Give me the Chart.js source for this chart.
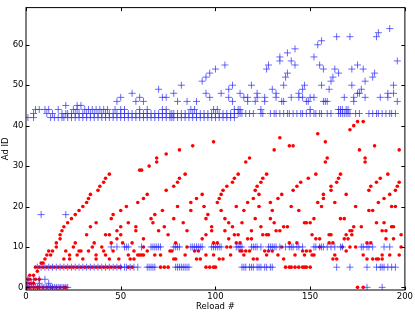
<!DOCTYPE html>
<html><head><meta charset="utf-8">
<script src="https://cdn.jsdelivr.net/npm/chart.js@4"></script>
<style>html,body{margin:0;padding:0;background:#fff;overflow:hidden}</style>
</head><body>
<canvas id="c" width="415" height="312"></canvas>
<script>
// ---- tick labels ----
const xTicks = [0, 50, 100, 150, 200];
const yTicks = [0, 10, 20, 30, 40, 50, 60];

// ---- red series: [reload, adId] ----
const redA = [
 [1,0],[2,0],[4,0],[6,0],[7,0],[9,0],[11,0],[13,0],[14,0],[16,0],[18,0],[20,0],[21,0],
 [0,1],[2,1],[4,1],[1,2],[2,2],[5,2],[7,2],[2,3],[4,3],[6,4],
 [5,5],[7,5],[9,5],[11,5],[13,5],[15,5],[17,5],[19,5],[21,5],[23,5],[25,5],[27,5],[29,5],[31,5],[33,5],[35,5],[37,5],[39,5],[41,5],[43,5],[45,5],[47,5],[49,5],
 [8,6],[9,6],
 [10,7],[20,7],[23,7],[30,7],[37,7],[44,7],[49,7],
 [11,8],[13,8],[23,8],[27,8],[37,8],[42,8],
 [12,9],[14,9],[21,9],[28,9],[29,9],[33,9],[41,9],[46,9],
 [16,10],[25,10],[35,10],[40,10],
 [16,11],[26,11],[36,11],[45,11],
 [18,12],[48,12],[18,13],[32,13],[42,13],[44,13],[19,14],[48,14],[20,15],[34,15],[22,16],[37,16],
 [24,17],[45,17],[26,18],[46,18],[28,19],[30,20],[32,21],[33,22],[34,23],[38,24],[39,25],[41,26],[42,27],[44,28]
];
const redB = [
 [50,19],[53,20],[59,21],[62,22],[64,23],[74,24],[78,25],[80,26],[81,27],[84,28],
 [60,29],[61,29],[65,30],[69,31],[69,32],[74,33],[81,34],[88,35],[99,36],
 [50,15],[50,13],[54,16],[58,15],[58,14],[62,12],[66,17],[67,16],[68,18],[70,14],[72,19],[73,15],[75,13],[78,17],[80,20],[83,16],[85,14],[87,21],[87,19],[90,22],[93,23],[94,20],[95,17],[96,18],[93,12],[95,13],[98,15],
 [51,11],[56,11],[57,9],[59,8],[62,10],[64,9],[68,8],[71,8],[76,9],[77,9],[79,11],[84,8],[85,10],[89,9],[91,9],[90,7],[92,7],[95,8],[99,11],
 [55,7],[57,7],[54,8],[60,8],[61,8],[62,8],[78,7],[79,7],
 [50,5],[54,5],[56,5],[71,5],[73,5],[75,5],[95,5],[97,5],[99,5],[100,5]
];
const redC = [
 [134,37],[131,34],[139,35],[141,35],[116,31],[118,32],
 [101,21],[102,22],[103,23],[104,24],[106,25],[109,26],[110,27],[112,28],
 [117,21],[120,22],[123,23],[121,24],[122,25],[124,26],[125,27],[127,28],
 [129,21],[133,22],[135,23],[141,24],[143,25],[145,26],
 [103,19],[111,20],[115,19],[123,20],[130,19],[140,20],[144,19],
 [105,17],[107,16],[109,15],[114,16],[121,17],[124,15],[129,17],[131,16],[132,14],[134,14],[136,15],[138,15],[147,16],
 [98,14],[105,14],[110,13],[112,13],[107,12],[119,14],[117,12],[119,12],[125,13],[127,13],[128,13],
 [101,11],[111,11],[113,11],[139,11],[143,11],
 [106,10],[108,10],[135,10],
 [113,9],[114,9],[116,9],[118,9],[126,9],[128,9],[130,9],[146,9],
 [99,8],[108,8],[115,8],[127,8],[133,8],[142,8],[147,8],
 [102,7],[104,7],[120,7],[122,7],[136,7],
 [137,5],[139,5],[140,5],[142,5],[144,5],[146,5],[147,5]
];
const redD = [
 [154,38],[158,36],[176,34],[197,34],[184,35],[159,32],[179,32],[158,31],[179,31],[171,39],[173,40],[175,41],[178,41],
 [153,28],[166,28],[191,28],[149,27],[165,27],[187,27],[164,26],[185,26],[197,26],[161,25],[182,25],[196,25],
 [161,24],[181,24],[195,24],[157,23],[169,23],[192,23],[157,22],[189,22],[154,21],[163,21],[186,21],
 [156,20],[174,20],[193,20],[195,20],[181,19],[183,19],
 [152,17],[166,17],[168,17],[148,16],[150,16],[185,16],[189,16],[173,15],[177,15],[193,15],[194,15],[171,14],[172,14],[188,14],[190,14],
 [151,13],[160,13],[161,13],[169,13],[172,13],[198,13],[153,12],[155,12],[168,12],[170,12],[190,12],[194,12],
 [160,11],[162,11],[180,11],[182,11],
 [155,10],[167,10],[171,10],[174,10],[198,10],
 [148,9],[150,9],[169,9],
 [151,8],[152,8],[163,8],[178,8],[188,8],[192,8],[197,8],
 [162,7],[164,7],[180,7],[183,7],[185,7],[186,7],[188,7],
 [148,5],[150,5],[175,0],[178,0]
];

// ---- blue series ----
const blueBandStart = [[1,42],[4,42],[4,43],[5,44],[7,44],[10,44],[11,43],[12,44],[13,42],[14,43],[15,42],[17,44],[17,42],[19,43],[19,42]];
const band42Reloads = [20,22,24,26,28,30,32,34,36,38,40,42,44,46,48,50,52,54,56,58,60,62,64,66,68,70,72,74,76,77,78,80,82,84,86,88,90,92,94,96,98,100,102,104,106,108,110];
const band43Reloads = [21,22,24,26,28,30,32,34,36,38,40,42,44,46,48,50,52,54,56,58,60,62,64,66,68,70,72,74,76,77,78,80,82,84,86,88,90,92,94,96,98,100,102,104,106,108,110,
 112,113,114,116,118,120,124,125,129,131,132,134,136,138,139,141,143,145,146,148,150,152,153,155,156,159,161,165,166,167,168,169,170,171,174,176,181,183,185,186,188,190,192,193,195];
const blueUpper = [
 [21,45],[25,44],[27,45],[29,45],[27,44],[31,44],[33,44],[35,44],[37,44],[39,44],[41,44],[43,44],[48,46],[50,47],[47,44],[50,44],[52,44],
 [56,48],[58,46],[60,47],[62,46],[60,44],[64,44],[70,49],[72,47],[74,47],[72,44],[74,44],[78,48],[80,46],[82,50],[85,46],[87,44],[89,44],
 [90,46],[93,51],[95,52],[95,48],[97,53],[97,47],
 [100,54],[105,55],[99,44],[101,44],[103,48],[107,47],[107,49],[109,50],[109,46],[110,44],[112,44],[113,44],[113,48],[115,47],[117,47],[117,46],
 [119,50],[121,46],[122,48],[122,47],[124,44],[126,47],[126,46],[127,54],[128,55],[130,49],[132,48],[132,47],[134,57],[134,56],[135,46],[136,46],
 [136,50],[137,52],[138,53],[138,58],[140,56],[142,55],[142,59],[140,47],[144,48],[144,47],[146,47],[146,49],[147,50],[148,46],[149,46],[150,47],
 [152,47],[150,44],[152,57],[154,60],[156,61],[155,55],[156,50],[157,54],[157,46],[158,46],[159,46],[160,49],[161,51],[162,52],[163,54],[165,53],
 [164,62],[165,44],[168,47],[166,44],[167,44],[169,44],[170,44],[171,62],[172,54],[172,50],[173,47],[173,46],[175,48],[176,48],[175,55],[177,49],
 [178,54],[179,51],[179,47],[183,52],[184,53],[185,62],[186,63],[187,47],[191,48],[191,47],[192,64],[194,50],[194,48],[196,46],[196,56]
];
const blueZeroReloads = [0,1,2,3,4,5,6,7,8,9,10,11,12,13,14,15,16,17,18,19,20,21,22,180,188];
const blueLowMisc = [[1,1],[3,1],[7,1],[12,1],[1,2],[4,2],[7,2],[10,2],[8,18],[21,18]];
const blueFiveReloads = [6,8,10,12,14,16,18,20,22,24,26,28,30,32,34,36,38,40,42,44,46,48,50,52,53,55,57,59,64,65,66,67,68,
 79,80,81,82,83,84,85,86,114,115,116,118,119,120,122,123,124,126,127,129,130,164,171,180,185,187,188,189,191,193,195];
const blueTenReloads = [45,48,52,53,54,61,66,67,68,69,70,71,78,79,80,81,87,88,89,90,91,92,93,98,99,100,101,102,103,111,112,113,114,
 119,120,121,122,124,128,129,130,131,132,134,137,139,140,141,143,144,146,152,153,155,156,157,159,161,163,166,167,177,178,180,181,183,189,192];

// ---- assemble library data ----
const pairPts = arr => arr.map(([x, y]) => ({x, y}));
const rowPts = (reloads, id) => reloads.map(x => ({x, y: id}));
const redData = pairPts([...redA, ...redB, ...redC, ...redD]);
const blueData = [
  ...pairPts(blueBandStart), ...rowPts(band42Reloads, 42), ...rowPts(band43Reloads, 43), ...pairPts(blueUpper),
  ...rowPts(blueZeroReloads, 0), ...pairPts(blueLowMisc), ...rowPts(blueFiveReloads, 5), ...rowPts(blueTenReloads, 10)
];

const FONT = {family: 'DejaVu Sans', size: 8.5};

const frame = {
  id: 'frame',
  afterDatasetsDraw(chart) {
    const {ctx, chartArea: {left, right, top, bottom}, scales: {x, y}} = chart;
    ctx.save();
    ctx.strokeStyle = '#000';
    ctx.lineWidth = 1;
    ctx.strokeRect(left, top, right - left, bottom - top);
    const tl = 3.5;
    ctx.beginPath();
    xTicks.forEach(v => {
      const px = Math.round(x.getPixelForValue(v)) + 0.5;
      ctx.moveTo(px, bottom); ctx.lineTo(px, bottom - tl);
      ctx.moveTo(px, top); ctx.lineTo(px, top + tl);
    });
    yTicks.forEach(v => {
      const py = Math.round(y.getPixelForValue(v)) + 0.5;
      ctx.moveTo(left, py); ctx.lineTo(left + tl, py);
      ctx.moveTo(right, py); ctx.lineTo(right - tl, py);
    });
    ctx.stroke();
    ctx.restore();
  }
};

new Chart(document.getElementById('c'), {
  type: 'scatter',
  data: {
    datasets: [
      {label: 'blue', data: blueData, pointStyle: 'cross', pointRadius: 3.5, pointHoverRadius: 3.5,
       borderColor: 'rgba(40,40,255,0.7)', backgroundColor: 'rgba(0,0,0,0)', borderWidth: 1, order: 0},
      {label: 'red', data: redData, pointStyle: 'circle', pointRadius: 1.8, pointHoverRadius: 1.8,
       backgroundColor: '#ff0000', borderColor: '#ff0000', borderWidth: 0, order: 1}
    ]
  },
  options: {
    responsive: false, animation: false, devicePixelRatio: 1,
    layout: {padding: {left: 0, right: 8, top: 1, bottom: 0}},
    plugins: {legend: {display: false}, tooltip: {enabled: false}},
    scales: {
      x: {
        type: 'linear', min: 0, max: 200,
        afterBuildTicks: s => { s.ticks = xTicks.map(v => ({value: v})); },
        afterFit: s => { s.height = 22; },
        grid: {display: false, drawTicks: false}, border: {display: false},
        ticks: {font: FONT, color: '#000', padding: 2, maxRotation: 0, autoSkip: false},
        title: {display: true, text: 'Reload #', font: FONT, color: '#000', padding: {top: 0, bottom: 0}}
      },
      y: {
        type: 'linear', min: -0.65, max: 69.2,
        afterBuildTicks: s => { s.ticks = yTicks.map(v => ({value: v})); },
        afterFit: s => { s.width = 26; },
        grid: {display: false, drawTicks: false}, border: {display: false},
        ticks: {font: FONT, color: '#000', padding: 2.5, autoSkip: false},
        title: {display: true, text: 'Ad ID', font: FONT, color: '#000', padding: {top: 1, bottom: 0}}
      }
    }
  },
  plugins: [frame]
});
</script>
</body></html>
